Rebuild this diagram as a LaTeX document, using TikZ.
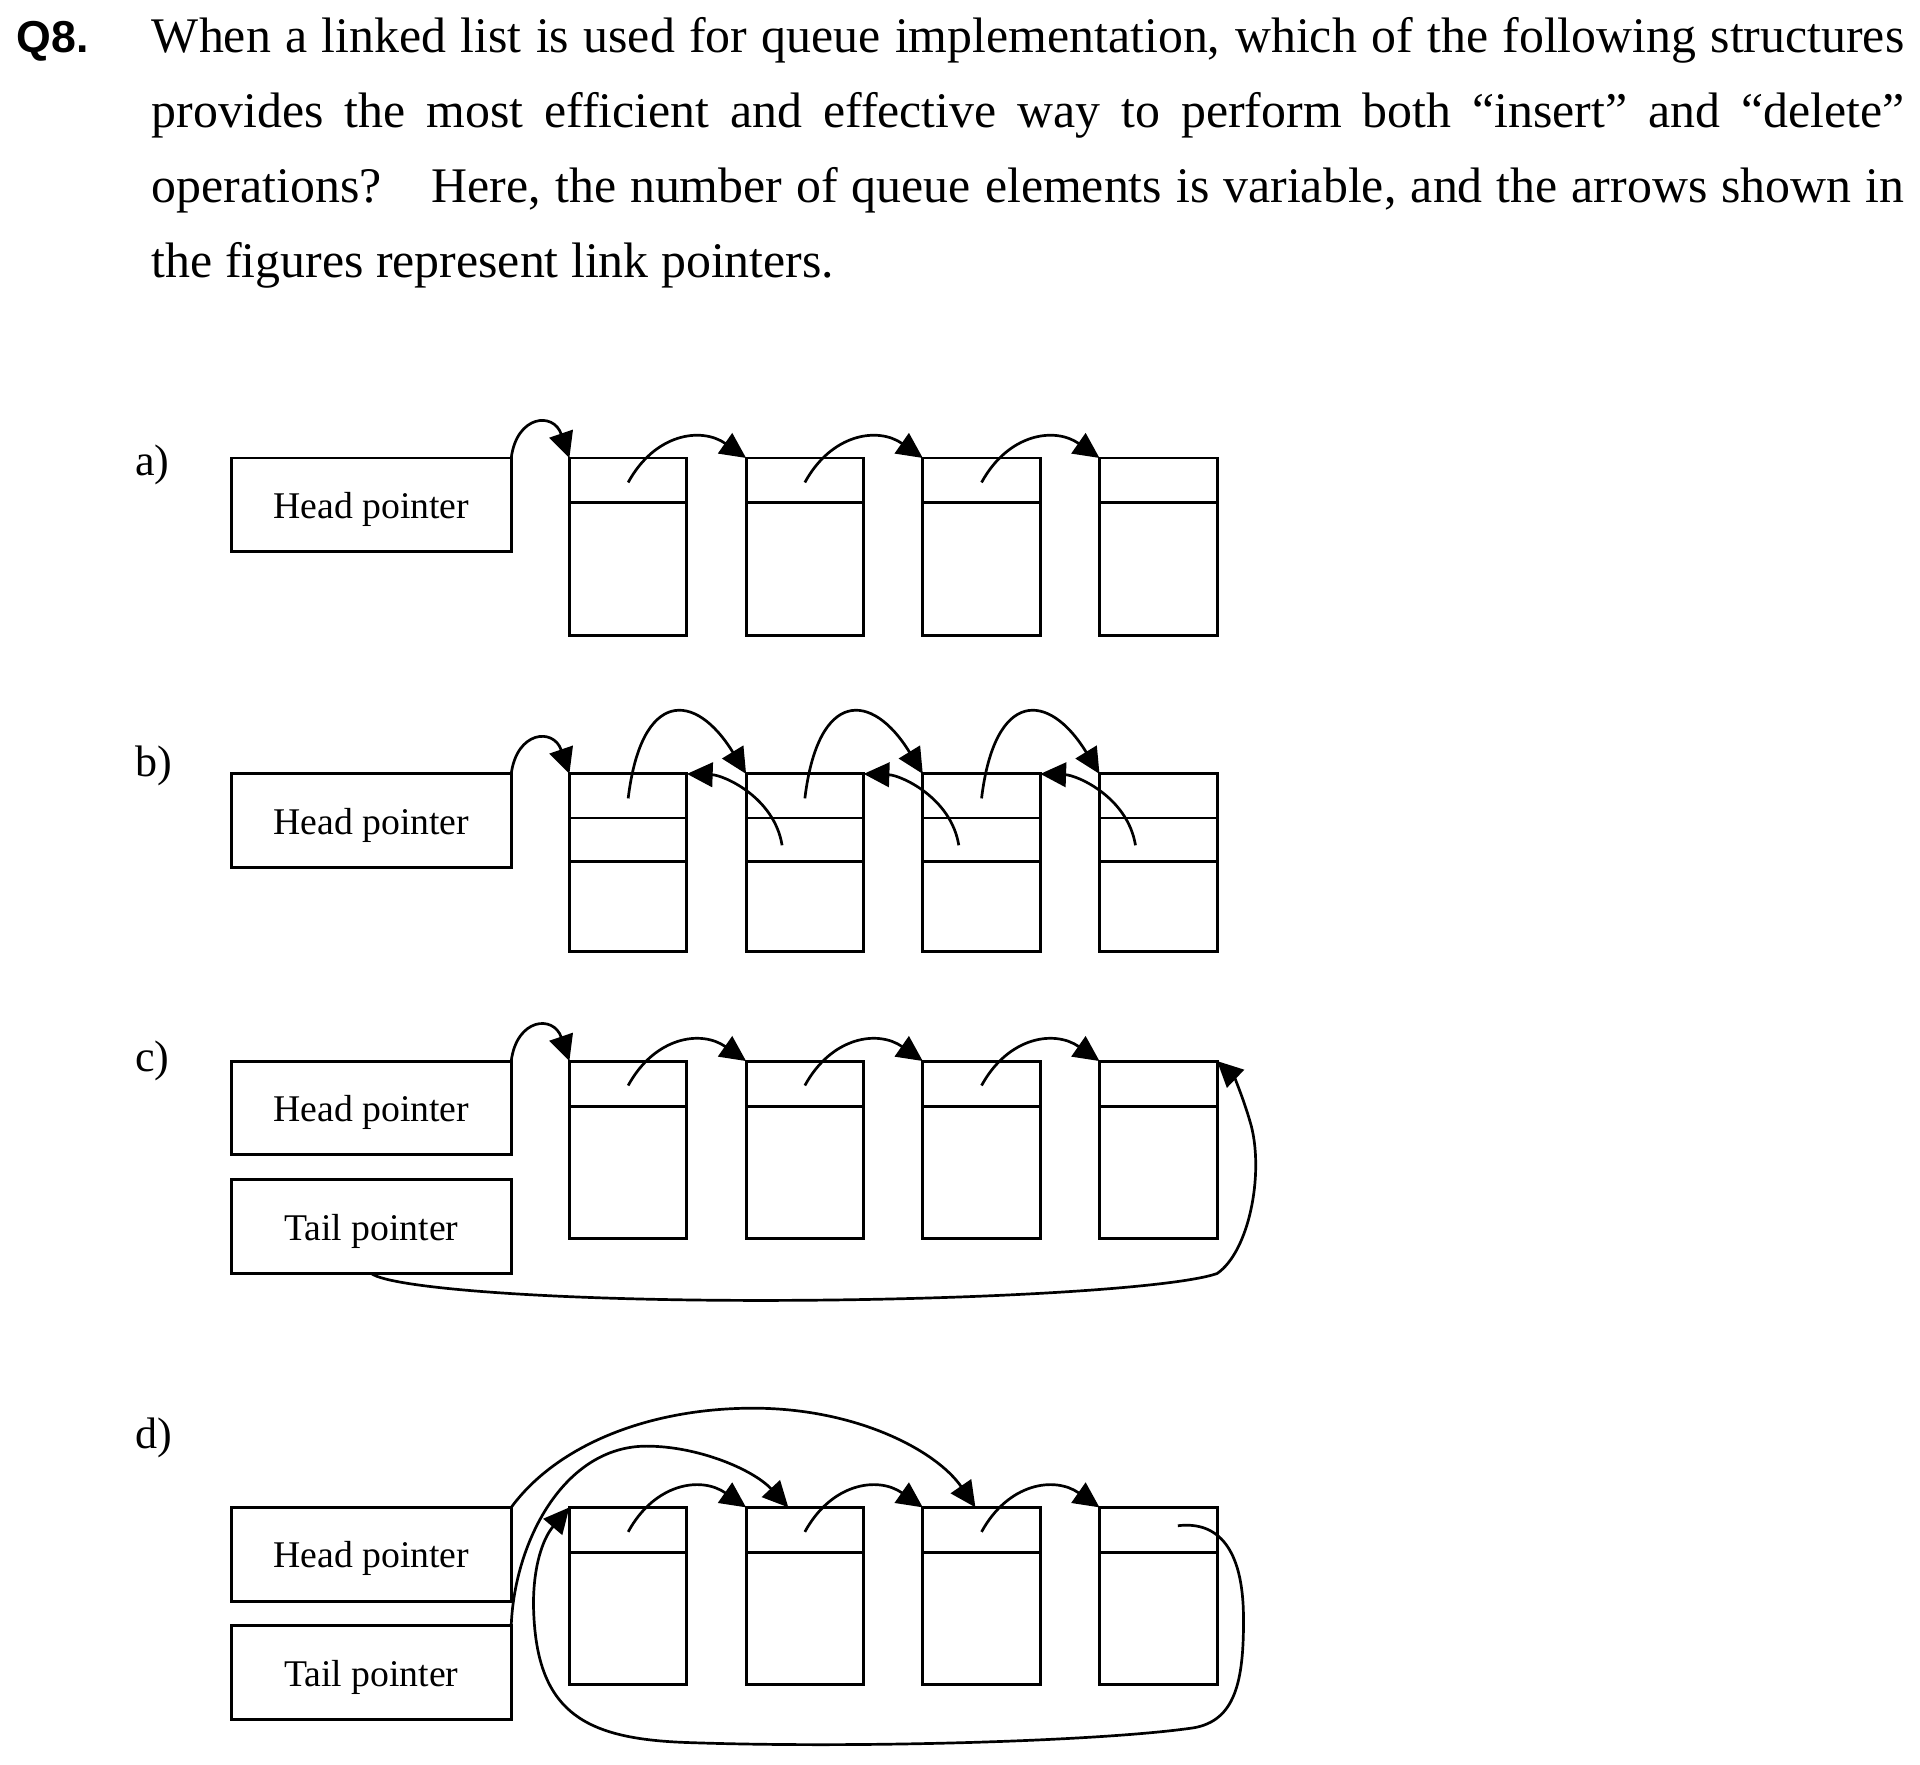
\documentclass[tikz,border=0pt]{standalone}
\usepackage{fontspec}
\setmainfont{Liberation Serif}
\newfontfamily\qfont{Liberation Sans}
\usetikzlibrary{arrows.meta,calc}
\begin{document}
\begin{tikzpicture}[x=1pt,y=-1pt,
  lw/.style={line width=2.4pt},
  cell/.style={draw,line width=2.4pt,minimum width=96pt,minimum height=145pt,inner sep=0pt,outer sep=0pt,anchor=north west},
  ptr/.style={draw,line width=2.4pt,minimum width=228.5pt,minimum height=76.5pt,inner sep=0pt,outer sep=0pt,anchor=north west,font=\fontsize{30.8}{36}\selectfont,text height=22pt,text depth=0pt},
  link/.style={line width=2.2pt,-{Triangle[length=21pt,width=20pt]}},
  sub/.style={anchor=base west,inner sep=0pt,font=\fontsize{36}{43}\selectfont},
  body/.style={anchor=base west,inner sep=0pt,font=\fontsize{40.7}{48}\selectfont},
]
\fill[white] (0,0) rectangle (1568,1441);
\useasboundingbox (0,0) rectangle (1568,1441);

% question text
\node[anchor=base west,inner sep=0pt,font=\qfont\bfseries\fontsize{36.5}{44}\selectfont] (q8) at (13.6,42.5) {Q8.};
\node[body] (l1) at (123.9,42.5) {\makebox[1431pt][s]{When a linked list is used for queue implementation, which of the following structures}};
\node[body] (l2) at (123.9,104) {\makebox[1431pt][s]{provides the most efficient and effective way to perform both “insert” and “delete”}};
\node[body] (l3) at (123.9,165.5) {\makebox[1431pt][s]{operations?\hspace{1em}Here, the number of queue elements is variable, and the arrows shown in}};
\node[body] (l4) at (123.9,227) {the figures represent link pointers.};

% sub labels
\node[sub] (la) at (110.3,388) {a)};
\node[sub] (lb) at (110.3,634) {b)};
\node[sub] (lc) at (110.3,875) {c)};
\node[sub] (ld) at (110.3,1183) {d)};

% ---------- a)
\node[ptr] (ha) at (189,374) {Head pointer};
\foreach \i in {1,...,4}{
  \node[cell] (a\i) at ({465+(\i-1)*144.3},374) {};
  \draw[lw] ([yshift=-36.5pt]a\i.north west) -- ([yshift=-36.5pt]a\i.north east);
}
\draw[link] (ha.north east) .. controls +(4.5,-35) and +(-13,-38) .. (a1.north west);
\foreach \i/\j in {1/2,2/3,3/4}
  \draw[link] ($(a\i.north west)+(48,20)$) .. controls +(21.6,-39.6) and +(-36.9,-25.8) .. (a\j.north west);

% ---------- b)
\node[ptr] (hb) at (189,632) {Head pointer};
\foreach \i in {1,...,4}{
  \node[cell] (b\i) at ({465+(\i-1)*144.3},632) {};
  \draw[lw] ([yshift=-36pt]b\i.north west) -- ([yshift=-36pt]b\i.north east);
  \draw[lw] ([yshift=-71.5pt]b\i.north west) -- ([yshift=-71.5pt]b\i.north east);
}
\draw[link] (hb.north east) .. controls +(4.5,-35) and +(-13,-38) .. (b1.north west);
\foreach \i/\j in {1/2,2/3,3/4}{
  \draw[link] ($(b\i.north west)+(48,20)$) .. controls +(10.8,-89.1) and +(-41.6,-68) .. (b\j.north west);
  \draw[link] ($(b\j.north west)+(29.4,58.3)$) .. controls +(-6.4,-39.3) and +(30,1) .. (b\i.north east);
}

% ---------- c)
\node[ptr] (hc) at (189,866.5) {Head pointer};
\node[ptr] (tc) at (189,963.5) {Tail pointer};
\foreach \i in {1,...,4}{
  \node[cell] (c\i) at ({465+(\i-1)*144.3},866.5) {};
  \draw[lw] ([yshift=-37pt]c\i.north west) -- ([yshift=-37pt]c\i.north east);
}
\draw[link] (hc.north east) .. controls +(4.5,-35) and +(-13,-38) .. (c1.north west);
\foreach \i/\j in {1/2,2/3,3/4}
  \draw[link] ($(c\i.north west)+(48,20)$) .. controls +(21.6,-39.6) and +(-36.9,-25.8) .. (c\j.north west);
\draw[link] (tc.south) .. controls +(16,12) and (450,1062) .. (621,1062)
  .. controls (800,1062) and (960,1052) .. (994,1040)
  .. controls (1020,1022) and (1032,960) .. (1022,920)
  .. controls (1016,898) and (1008,880) .. (c4.north east);

% ---------- d)
\node[ptr] (hd) at (189,1231) {Head pointer};
\node[ptr] (td) at (189,1327.7) {Tail pointer};
\foreach \i in {1,...,4}{
  \node[cell] (d\i) at ({465+(\i-1)*144.3},1231) {};
  \draw[lw] ([yshift=-37pt]d\i.north west) -- ([yshift=-37pt]d\i.north east);
}
\foreach \i/\j in {1/2,2/3,3/4}
  \draw[link] ($(d\i.north west)+(48,20)$) .. controls +(21.6,-39.6) and +(-36.9,-25.8) .. (d\j.north west);
\draw[link] (hd.north east) .. controls (455,1180) and (530,1150) .. (615,1150)
  .. controls (700,1150) and (765,1185) .. ($(d3.north west)+(43,0)$);
\draw[link] (td.north east) .. controls (420,1260) and (460,1181) .. (528,1181)
  .. controls (570,1181) and (615,1200) .. ($(d2.north west)+(34.5,0)$);
\draw[link] ($(d4.north west)+(64,15)$) .. controls (995,1242) and (1015,1265) .. (1015.5,1320)
  .. controls (1016,1375) and (1008,1405) .. (975,1411)
  .. controls (900,1422) and (700,1428) .. (560,1423)
  .. controls (480,1420) and (440,1400) .. (436,1320)
  .. controls (434,1285) and (442,1258) .. (d1.north west);
\end{tikzpicture}
\end{document}
